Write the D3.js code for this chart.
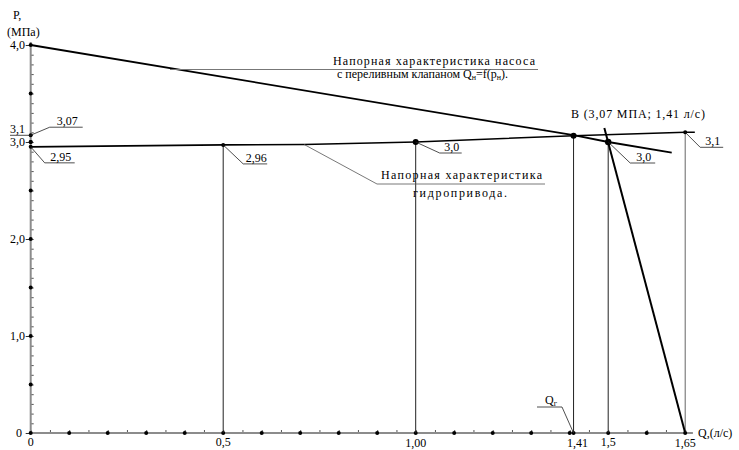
<!DOCTYPE html>
<html>
<head>
<meta charset="utf-8">
<script src="https://cdn.jsdelivr.net/npm/d3@7"></script>
<style>
  body { margin: 0; background: #fff; }
  svg text { font-family: "Times New Roman", Times, "Liberation Serif", "DejaVu Serif", serif; }
</style>
</head>
<body>
<div class="container"></div>
<script>
// Pump pressure characteristic (Q, p)
const pumpQ = [0, 1.41, 1.5, 1.665];
const pumpP = [4.0, 3.07, 3.0, 2.89];
// Overflow valve branch
const valveQ = [1.49, 1.7];
const valveP = [3.145, 0];
// Hydraulic drive characteristic
const driveQ = [0, 0.5, 0.71, 1.0, 1.41, 1.7, 1.725];
const driveP = [2.95, 2.97, 2.975, 3.0, 3.065, 3.1, 3.1];

// Marked points and drop lines to the Q axis
const markQ = [0.5, 1.0, 1.41, 1.5, 1.7];
const markP = [2.97, 3.0, 3.065, 3.0, 3.1];
const markR = [2, 3, 3, 3.2, 2];

const qTicks = [0, 0.5, 1.0, 1.41, 1.5, 1.7];
const qTickLabels = ["0", "0,5", "1,00", "1,41", "1,5", "1,65"];
const pTicks = [0, 1, 2, 3, 4];
const pTickLabels = ["0", "1,0", "2,0", "3,0", "4,0"];

const width = 739, height = 450;
const x = d3.scaleLinear().domain([0, 1.8]).range([30.7, 723.7]);
const y = d3.scaleLinear().domain([0, 4]).range([433, 45]);

const svg = d3.select(".container").append("svg")
    .attr("width", width).attr("height", height)
    .attr("font-size", 12);

const axisColor = "#8c8c8c";

// y axis: minor ticks on the right
svg.append("g")
    .attr("transform", `translate(${x(0)},0)`)
    .call(d3.axisRight(y).tickValues(d3.range(0, 4.01, 0.1)).tickSize(3).tickSizeOuter(0).tickFormat(""))
    .call(g => g.select(".domain").remove())
    .call(g => g.selectAll("line").attr("stroke", "#555"));

// y axis: major dashes on the left
svg.append("g")
    .attr("transform", `translate(${x(0)},0)`)
    .call(d3.axisLeft(y).tickValues(pTicks).tickSize(5).tickFormat(""))
    .call(g => g.select(".domain").remove())
    .call(g => g.selectAll("line").attr("stroke", "#333"));

// x axis: minor ticks above
svg.append("g")
    .attr("transform", `translate(0,${y(0)})`)
    .call(d3.axisTop(x).tickValues(d3.range(0, 1.71, 0.05)).tickSize(3).tickFormat(""))
    .call(g => g.select(".domain").remove())
    .call(g => g.selectAll("line").attr("stroke", "#555"));

// axis lines
svg.append("line").attr("x1", x(0)).attr("x2", x(0)).attr("y1", y(0)).attr("y2", y(4.03))
    .attr("stroke", axisColor).attr("stroke-width", 2);
svg.append("line").attr("x1", x(0)).attr("x2", x(1.72)).attr("y1", y(0)).attr("y2", y(0))
    .attr("stroke", axisColor).attr("stroke-width", 2);

// axis dots
const yDots = d3.range(0, 4.01, 0.5).concat([3.07, 3.0, 2.95]);
svg.append("g").selectAll("circle").data(yDots).join("circle")
    .attr("cx", x(0)).attr("cy", d => y(d)).attr("r", 2).attr("fill", "#000");
const xDots = d3.range(0.1, 1.71, 0.1).concat([1.41]);
svg.append("g").selectAll("circle").data(xDots).join("circle")
    .attr("cx", d => x(d)).attr("cy", y(0)).attr("r", 2).attr("fill", "#000");

// tick labels
svg.append("g").selectAll("text").data(qTicks).join("text")
    .attr("x", d => x(d)).attr("y", (d, i) => [446, 446, 447, 447, 446, 447][i])
    .attr("text-anchor", "middle")
    .attr("dx", (d, i) => i === 3 ? 4 : 0)
    .text((d, i) => qTickLabels[i]);
svg.append("g").selectAll("text").data(pTicks).join("text")
    .attr("x", d => d === 0 ? 22 : 25).attr("y", d => y(d) + 4)
    .attr("text-anchor", "end")
    .text((d, i) => pTickLabels[i]);

svg.append("text").attr("x", 13).attr("y", 19).text("P,");
svg.append("text").attr("x", 7).attr("y", 36).text("(МПа)");
svg.append("text").attr("x", 698).attr("y", 437).text("Q,(л/с)");

// drop lines
const marks = markQ.map((q, i) => ({ q, p: markP[i], r: markR[i] }));
svg.append("g").selectAll("line").data(marks).join("line")
    .attr("x1", d => x(d.q)).attr("x2", d => x(d.q))
    .attr("y1", d => y(d.p)).attr("y2", y(0))
    .attr("stroke", (d, i) => i === 4 ? "#666" : "#222").attr("stroke-width", 1);

// curves
const line = d3.line().x(d => x(d[0])).y(d => y(d[1]));
const curves = [
    { q: pumpQ, p: pumpP, w: 1.8 },
    { q: valveQ, p: valveP, w: 2 },
    { q: driveQ, p: driveP, w: 1.6 }
];
svg.append("g").selectAll("path").data(curves).join("path")
    .attr("d", c => line(c.q.map((q, i) => [q, c.p[i]])))
    .attr("fill", "none").attr("stroke", "#000").attr("stroke-width", c => c.w);

svg.append("g").selectAll("circle").data(marks).join("circle")
    .attr("cx", d => x(d.q)).attr("cy", d => y(d.p)).attr("r", d => d.r).attr("fill", "#000");

// leader callouts: from a point, diagonal to (dx, dy), then horizontal to dx2
const callouts = [
    { q: 0, p: 3.07, dx: 19, dy: -8, dx2: 52, label: "3,07" },
    { q: 0, p: 2.95, dx: 14, dy: 16, dx2: 44, label: "2,95" },
    { q: 0.5, p: 2.97, dx: 20, dy: 19, dx2: 44, label: "2,96" },
    { q: 1.0, p: 3.0, dx: 24, dy: 11, dx2: 46, label: "3,0" },
    { q: 1.5, p: 3.0, dx: 22, dy: 21, dx2: 47, label: "3,0" },
    { q: 1.7, p: 3.1, dx: 15, dy: 15, dx2: 38, label: "3,1" }
];
const co = svg.append("g");
callouts.forEach(c => {
    const x0 = x(c.q), y0 = y(c.p);
    co.append("path")
        .attr("d", `M${x0},${y0}L${x0 + c.dx},${y0 + c.dy}H${x0 + c.dx2}`)
        .attr("fill", "none").attr("stroke", "#222").attr("stroke-width", 0.8);
    co.append("text")
        .attr("x", x0 + (c.dx + c.dx2) / 2 + 1).attr("y", y0 + c.dy - 2)
        .attr("text-anchor", "middle").text(c.label);
});

// left "3,1" label
co.append("path").attr("d", `M10,${y(3.1) + 3}H${x(0)}`)
    .attr("stroke", "#222").attr("stroke-width", 0.8);
co.append("text").attr("x", 10).attr("y", y(3.1) + 1).text("3,1");

// Q_г callout
co.append("path").attr("d", `M${x(1.41)},${y(0)}L562,407H537`)
    .attr("fill", "none").attr("stroke", "#222").attr("stroke-width", 0.8);
const qg = co.append("text").attr("x", 545).attr("y", 404);
qg.append("tspan").text("Q");
qg.append("tspan").attr("font-size", 8).attr("dy", 2).text("г");

// point B
co.append("text").attr("x", 571).attr("y", 118).attr("textLength", 134)
    .text("B (3,07 МПА;  1,41 л/с)");

// pump characteristic caption
co.append("path").attr("d", "M170,69.5H538")
    .attr("stroke", "#777").attr("stroke-width", 1);
co.append("text").attr("x", 333).attr("y", 65).attr("textLength", 202)
    .text("Напорная характеристика насоса");
const t2 = co.append("text").attr("x", 337).attr("y", 78);
t2.append("tspan").text("с переливным клапаном Q");
t2.append("tspan").attr("font-size", 8).attr("dy", 2).text("н");
t2.append("tspan").attr("dy", -2).text("=f(p");
t2.append("tspan").attr("font-size", 8).attr("dy", 2).text("н");
t2.append("tspan").attr("dy", -2).text(").");

// drive characteristic caption
co.append("path").attr("d", `M${x(0.71)},${y(2.975)}L377,184H545`)
    .attr("fill", "none").attr("stroke", "#555").attr("stroke-width", 0.8);
co.append("text").attr("x", 381).attr("y", 179).attr("textLength", 161)
    .text("Напорная характеристика");
co.append("text").attr("x", 413).attr("y", 197).attr("textLength", 94)
    .text("гидропривода.");
</script>
</body>
</html>
